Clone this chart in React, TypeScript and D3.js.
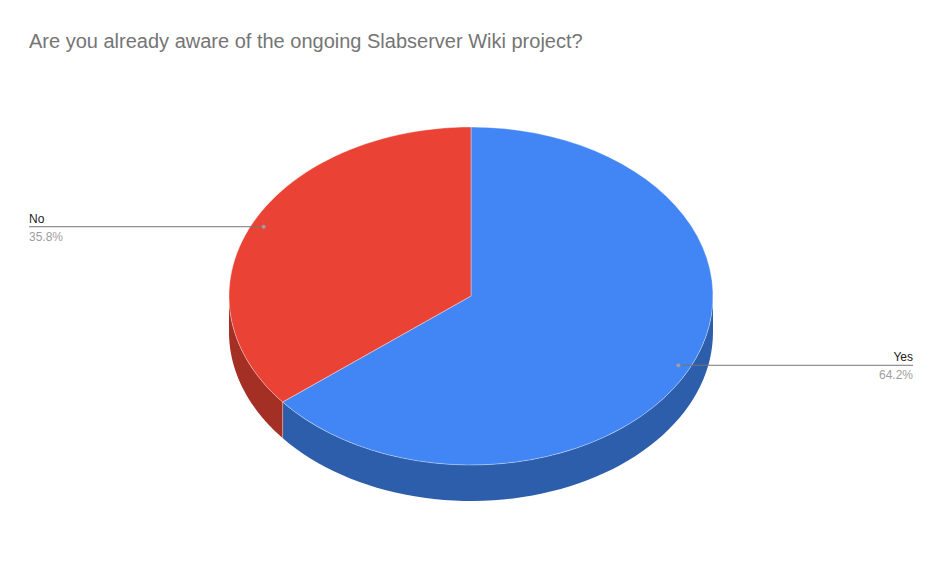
import { useEffect, useRef } from "react";
import * as d3 from "d3";

const categories = ["Yes", "No"];
const shares = [64.2, 35.8];
const topColors = ["#4285F4", "#EA4335"];
const sideColors = ["#2D5EAB", "#A42F25"];
const title = "Are you already aware of the ongoing Slabserver Wiki project?";

const W = 943;
const H = 586;
const FONT = "'Liberation Sans', Arial, sans-serif";

const App = () => {
  const svgRef = useRef<SVGSVGElement | null>(null);

  useEffect(() => {
    document.body.style.margin = "0";
    if (!svgRef.current) return;
    const svg = d3.select(svgRef.current);
    svg.selectAll("*").remove();

    const cx = 471;
    const cy = 296;
    const rx = 242;
    const ry = 169;
    const depth = 36;

    // angle measured clockwise from 12 o'clock
    const px = (a: number, r = 1) => cx + rx * r * Math.sin(a);
    const py = (a: number, r = 1) => cy - ry * r * Math.cos(a);

    const data = categories.map((name, i) => ({ name, value: shares[i], i }));
    const arcs = d3
      .pie<{ name: string; value: number; i: number }>()
      .sort(null)
      .value((d) => d.value)(data);

    const line = d3.line<[number, number]>();
    const sample = (a0: number, a1: number, dy = 0) =>
      d3.range(0, 61).map((k) => {
        const a = a0 + ((a1 - a0) * k) / 60;
        return [px(a), py(a) + dy] as [number, number];
      });

    const g = svg.append("g");

    // side walls (only front half visible: angles between PI/2 and 3PI/2)
    arcs.forEach((d) => {
      const a0 = Math.max(d.startAngle, Math.PI / 2);
      const a1 = Math.min(d.endAngle, (3 * Math.PI) / 2);
      if (a1 <= a0) return;
      const pts = [...sample(a0, a1), ...sample(a1, a0, depth)];
      g.append("path")
        .attr("d", line(pts) + "Z")
        .attr("fill", sideColors[d.data.i]);
    });

    // vertical edges at slice boundaries on the front side
    arcs.forEach((d) => {
      const a = d.startAngle;
      if (a > Math.PI / 2 && a < (3 * Math.PI) / 2) {
        g.append("line")
          .attr("x1", px(a))
          .attr("y1", py(a))
          .attr("x2", px(a))
          .attr("y2", py(a) + depth)
          .attr("stroke", "#d98f88")
          .attr("stroke-width", 1);
      }
    });

    // top faces
    arcs.forEach((d) => {
      const pts: [number, number][] = [[cx, cy], ...sample(d.startAngle, d.endAngle)];
      g.append("path")
        .attr("d", line(pts) + "Z")
        .attr("fill", topColors[d.data.i])
        .attr("stroke", "#ffffff")
        .attr("stroke-opacity", 0.45)
        .attr("stroke-width", 0.8)
        .attr("stroke-linejoin", "round");
    });

    // labels
    const total = d3.sum(shares);
    arcs.forEach((d) => {
      const mid = (d.startAngle + d.endAngle) / 2;
      const x0 = px(mid, 0.95);
      const y0 = py(mid, 0.95);
      const right = x0 > cx;
      const xEnd = right ? 913 : 29;
      g.append("line")
        .attr("x1", x0)
        .attr("y1", y0)
        .attr("x2", xEnd)
        .attr("y2", y0)
        .attr("stroke", "#757575")
        .attr("stroke-width", 1);
      g.append("circle")
        .attr("cx", x0)
        .attr("cy", y0)
        .attr("r", 2)
        .attr("fill", "#9e9e9e");
      g.append("text")
        .attr("x", xEnd)
        .attr("y", y0 - 4)
        .attr("text-anchor", right ? "end" : "start")
        .attr("font-family", FONT)
        .attr("font-size", 12)
        .attr("fill", "#222222")
        .text(d.data.name);
      g.append("text")
        .attr("x", xEnd)
        .attr("y", y0 + 14)
        .attr("text-anchor", right ? "end" : "start")
        .attr("font-family", FONT)
        .attr("font-size", 12)
        .attr("fill", "#9e9e9e")
        .text(((d.data.value / total) * 100).toFixed(1) + "%");
    });

    svg
      .append("text")
      .attr("x", 29)
      .attr("y", 48)
      .attr("font-family", FONT)
      .attr("font-size", 20)
      .attr("fill", "#757575")
      .text(title);
  }, []);

  return (
    <svg ref={svgRef} width={W} height={H} style={{ display: "block", background: "#ffffff" }} />
  );
};

export default App;
